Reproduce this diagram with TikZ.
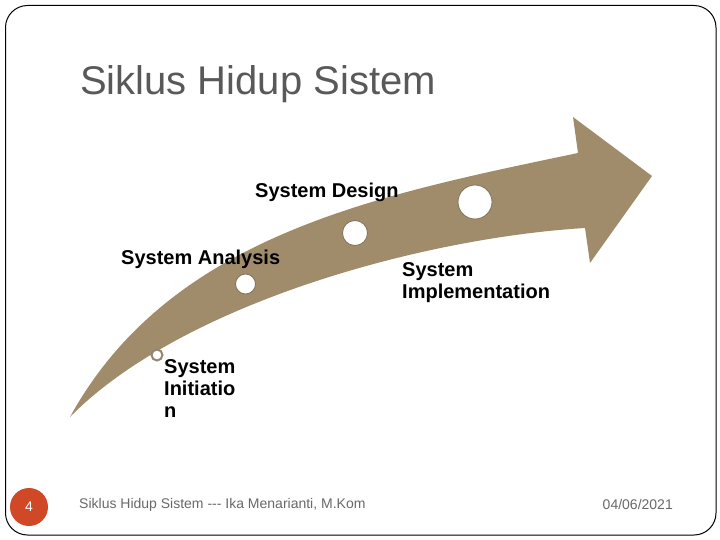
\documentclass[tikz,border=0pt]{standalone}
\usepackage{fontspec}
\setmainfont{Liberation Sans}
\definecolor{arrowtan}{RGB}{160,140,106}
\definecolor{ringtan}{RGB}{128,114,90}
\definecolor{titlegray}{RGB}{89,89,89}
\definecolor{footgray}{RGB}{105,105,105}
\definecolor{pageorange}{RGB}{209,72,38}
\tikzset{
  stagelabel/.style={inner sep=0pt, anchor=base west, align=left, font=\fontsize{20}{22}\selectfont\bfseries, text=black},
  hole/.style={circle, fill=white, draw=ringtan, line width=0.8pt, inner sep=0pt},
  foot/.style={inner sep=0pt, font=\fontsize{14}{16}\selectfont, text=footgray},
}
\begin{document}
\begin{tikzpicture}[x=1pt,y=-1pt]
\useasboundingbox (0,0) rectangle (720,540);
\fill[white] (0,0) rectangle (720,540);
\draw[black, line width=1pt, rounded corners=22pt] (5.5,5.5) rectangle (716,535);
% title
\node[inner sep=0pt, anchor=base west, font=\fontsize{40}{44}\selectfont, text=titlegray] (title) at (80,95) {Siklus Hidup Sistem};
% arrow
\fill[arrowtan] (70,417) .. controls (170,235) and (378,195) .. (578,153)
  -- (573,117) -- (652,176) -- (590,263) -- (585,228)
  .. controls (420,238) and (180,305) .. (70,417) -- cycle;
% holes
\node[hole, minimum size=11pt, draw=ringtan!85, line width=2pt] (h1) at (157,355) {};
\node[hole, minimum size=20pt] (h2) at (245.5,284) {};
\node[hole, minimum size=25pt] (h3) at (355,233) {};
\node[hole, minimum size=34pt] (h4) at (475,202) {};
% labels (base anchor = baseline of the last line)
\node[stagelabel] (design) at (255,197) {System Design};
\node[stagelabel] (analysis) at (121,264) {System Analysis};
\node[stagelabel] (impl) at (402,298) {System\\Implementation};
\node[stagelabel] (init) at (164,417) {System\\Initiatio\\n};
% footer
\node[circle, fill=pageorange, minimum size=38pt, inner sep=0pt] (page) at (29,507) {};
\node[inner sep=0pt, font=\fontsize{14}{16}\selectfont, text=white] (pagenum) at (page.center) {4};
\node[foot, anchor=base west] (ftext) at (79,508) {Siklus Hidup Sistem -{}-{}- Ika Menarianti, M.Kom};
\node[foot, anchor=base east] (fdate) at (673,509) {04/06/2021};
\end{tikzpicture}
\end{document}
